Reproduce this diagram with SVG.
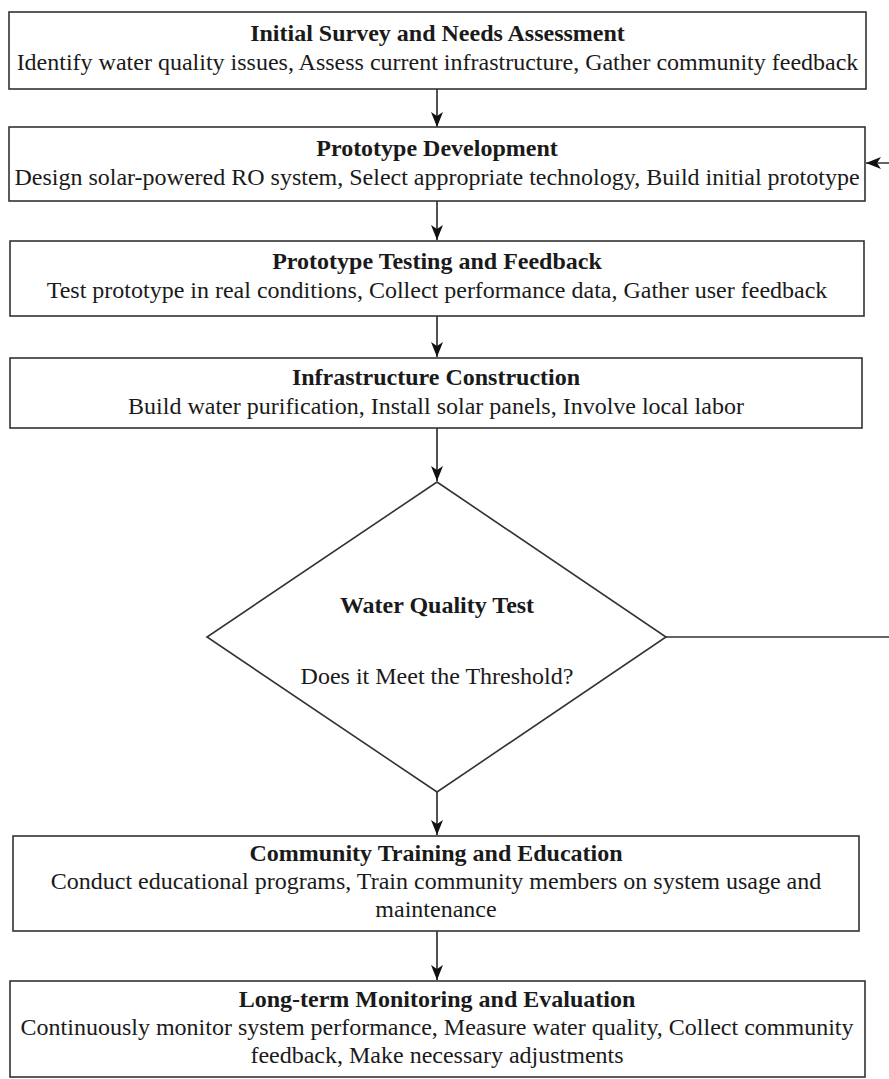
<svg xmlns="http://www.w3.org/2000/svg" width="889" height="1079" viewBox="0 0 889 1079">
<style>
.box{fill:#fff;stroke:#333;stroke-width:1.6}
.t{font-family:"Liberation Serif","Times New Roman",serif;font-size:24px;fill:#1a1a1a;text-anchor:middle}
.b{font-weight:bold}
.edge{fill:none;stroke:#333;stroke-width:1.7}
</style>
<defs>
<marker id="arr" viewBox="0 0 15 12" refX="15" refY="6" markerWidth="15" markerHeight="12" markerUnits="userSpaceOnUse" orient="auto">
<path d="M0,0 L15,6 L0,12 L4,6 Z" fill="#111"/>
</marker>
</defs>
<rect width="889" height="1079" fill="#fff"/>
<g id="connectors">
<path class="edge" d="M437,89 V127" marker-end="url(#arr)"/>
<path class="edge" d="M437,201 V240" marker-end="url(#arr)"/>
<path class="edge" d="M437,316 V357" marker-end="url(#arr)"/>
<path class="edge" d="M437,428 V481" marker-end="url(#arr)"/>
<path class="edge" d="M437,792 V835" marker-end="url(#arr)"/>
<path class="edge" d="M437,931 V980" marker-end="url(#arr)"/>
<path class="edge" d="M666,637 H900 V163 H866" marker-end="url(#arr)"/>
</g>
<g id="n1">
<rect class="box" x="9" y="12" width="857" height="77"/>
<text class="t b" x="437.5" y="41">Initial Survey and Needs Assessment</text>
<text class="t" x="437.5" y="70">Identify water quality issues, Assess current infrastructure, Gather community feedback</text>
</g>
<g id="n2">
<rect class="box" x="9" y="127" width="856" height="74"/>
<text class="t b" x="437" y="156">Prototype Development</text>
<text class="t" x="437" y="185">Design solar-powered RO system, Select appropriate technology, Build initial prototype</text>
</g>
<g id="n3">
<rect class="box" x="10" y="241" width="854" height="75"/>
<text class="t b" x="437" y="269">Prototype Testing and Feedback</text>
<text class="t" x="437" y="298">Test prototype in real conditions, Collect performance data, Gather user feedback</text>
</g>
<g id="n4">
<rect class="box" x="10" y="358" width="852" height="70"/>
<text class="t b" x="436" y="385">Infrastructure Construction</text>
<text class="t" x="436" y="414">Build water purification, Install solar panels, Involve local labor</text>
</g>
<g id="n5">
<path class="box" d="M437,482 L666,637 L437,792 L207,637 Z"/>
<text class="t b" x="437" y="613">Water Quality Test</text>
<text class="t" x="437" y="684">Does it Meet the Threshold?</text>
</g>
<g id="n6">
<rect class="box" x="13" y="836" width="846" height="95"/>
<text class="t b" x="436" y="861">Community Training and Education</text>
<text class="t" x="436" y="889">Conduct educational programs, Train community members on system usage and</text>
<text class="t" x="436" y="917">maintenance</text>
</g>
<g id="n7">
<rect class="box" x="10" y="981" width="855" height="96"/>
<text class="t b" x="437" y="1007">Long-term Monitoring and Evaluation</text>
<text class="t" x="437" y="1035">Continuously monitor system performance, Measure water quality, Collect community</text>
<text class="t" x="437" y="1063">feedback, Make necessary adjustments</text>
</g>
</svg>
